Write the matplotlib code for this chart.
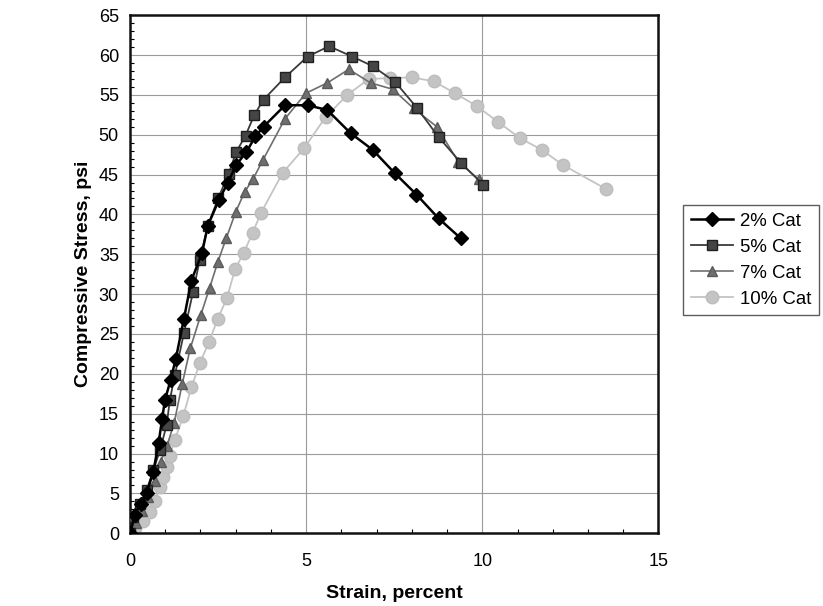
import matplotlib.pyplot as plt
from matplotlib.ticker import MultipleLocator

plt.rcParams['font.family'] = ['Liberation Sans', 'DejaVu Sans']

# 2% Cat
x2 = [0, 0.14, 0.30, 0.47, 0.66, 0.81, 0.91, 0.99, 1.15, 1.30, 1.53, 1.74, 2.04,
      2.21, 2.52, 2.78, 3.01, 3.30, 3.56, 3.79, 4.40, 5.04, 5.60, 6.26, 6.89,
      7.51, 8.13, 8.76, 9.39]
y2 = [0, 2.3, 3.7, 5.0, 7.7, 11.3, 14.3, 16.7, 19.2, 21.9, 26.9, 31.7, 35.1,
      38.6, 41.8, 44.0, 46.2, 47.8, 49.8, 51.0, 53.7, 53.7, 53.1, 50.2, 48.1,
      45.2, 42.5, 39.5, 37.0]

# 5% Cat
x5 = [0, 0.09, 0.28, 0.47, 0.66, 0.85, 1.04, 1.13, 1.27, 1.53, 1.79, 1.98, 2.21,
      2.50, 2.80, 3.01, 3.28, 3.53, 3.79, 4.40, 5.04, 5.65, 6.31, 6.89, 7.53,
      8.14, 8.76, 9.41, 10.03]
y5 = [0, 2.0, 3.7, 5.4, 7.9, 10.4, 13.6, 16.7, 19.8, 25.1, 30.3, 34.3, 38.6,
      42.0, 45.1, 47.8, 49.9, 52.5, 54.4, 57.2, 59.8, 61.1, 59.8, 58.6, 56.6,
      53.4, 49.7, 46.4, 43.7]

# 7% Cat
x7 = [0, 0.17, 0.35, 0.52, 0.70, 0.87, 1.05, 1.25, 1.48, 1.71, 2.01, 2.26, 2.49,
      2.73, 3.00, 3.25, 3.50, 3.77, 4.40, 4.99, 5.60, 6.21, 6.83, 7.46, 8.05,
      8.71, 9.32, 9.90]
y7 = [0, 1.3, 2.8, 4.6, 6.6, 9.0, 11.0, 13.8, 18.7, 23.2, 27.4, 30.8, 34.0,
      37.0, 40.3, 42.8, 44.5, 46.8, 52.0, 55.2, 56.5, 58.2, 56.5, 55.7, 53.3,
      51.0, 46.6, 44.4]

# 10% Cat
x10 = [0, 0.14, 0.38, 0.56, 0.71, 0.85, 0.94, 1.04, 1.13, 1.27, 1.51, 1.74,
       1.98, 2.24, 2.49, 2.75, 2.98, 3.23, 3.48, 3.72, 4.33, 4.94, 5.55, 6.17,
       6.78, 7.39, 8.00, 8.62, 9.23, 9.84, 10.45, 11.06, 11.69, 12.29, 13.51]
y10 = [0, 0.6, 1.6, 2.7, 4.1, 5.8, 7.1, 8.3, 9.7, 11.7, 14.7, 18.3, 21.3, 24.0,
       26.9, 29.5, 33.1, 35.2, 37.7, 40.2, 45.2, 48.3, 52.2, 55.0, 57.0, 57.1,
       57.2, 56.7, 55.2, 53.6, 51.6, 49.6, 48.1, 46.2, 43.2]

fig = plt.figure(figsize=(8.23, 6.06), dpi=100)
ax = fig.add_axes([0.158, 0.12, 0.642, 0.855])

ax.plot(x10, y10, color='#c4c4c4', marker='o', markersize=9, lw=1.3,
        markeredgecolor='#bdbdbd', label='10% Cat', zorder=2)
ax.plot(x7, y7, color='#6e6e6e', marker='^', markersize=7.5, lw=1.2,
        markeredgecolor='#5a5a5a', label='7% Cat', zorder=3)
ax.plot(x5, y5, color='#3a3a3a', marker='s', markersize=7.5, lw=1.3,
        markerfacecolor='#454545', markeredgecolor='#202020', label='5% Cat', zorder=4)
ax.plot(x2, y2, color='black', marker='D', markersize=7, lw=1.8,
        label='2% Cat', zorder=5)

ax.set_xlim(0, 15)
ax.set_ylim(0, 65)
ax.xaxis.set_major_locator(MultipleLocator(5))
ax.yaxis.set_major_locator(MultipleLocator(5))
ax.xaxis.set_minor_locator(MultipleLocator(1))
ax.yaxis.set_minor_locator(MultipleLocator(1))
ax.tick_params(which='major', length=0, labelsize=13)
ax.tick_params(axis='y', which='major', pad=8)
ax.tick_params(axis='x', which='major', pad=14)
ax.tick_params(which='minor', direction='in', length=3, width=0.8)
ax.grid(True, which='major', color='#9a9a9a', lw=0.8)
for s in ax.spines.values():
    s.set_linewidth(1.8)
    s.set_color('#111111')

ax.set_xlabel('Strain, percent', fontsize=14, fontweight='bold', labelpad=11)
ax.set_ylabel('Compressive Stress, psi', fontsize=14, fontweight='bold', labelpad=5)

h, l = ax.get_legend_handles_labels()
leg = ax.legend(h[::-1], l[::-1], loc='center left', bbox_to_anchor=(1.047, 0.527),
                borderaxespad=0, fontsize=13.4, frameon=True, fancybox=False,
                edgecolor='#333333', handlelength=2.25, handletextpad=0.4,
                labelspacing=0.48, borderpad=0.4)
leg.get_frame().set_linewidth(1.0)

plt.savefig('out.png', dpi=100)
